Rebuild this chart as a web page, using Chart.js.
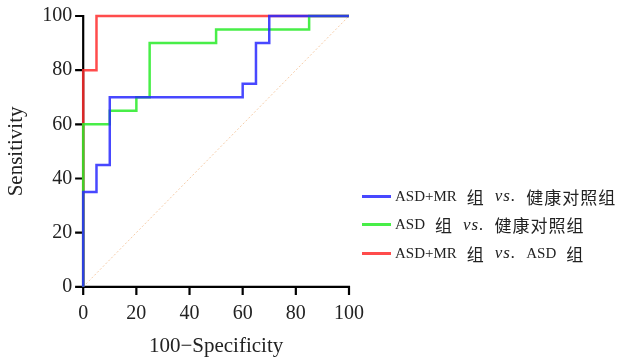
<!DOCTYPE html>
<html>
<head>
<meta charset="utf-8">
<script src="https://cdn.jsdelivr.net/npm/chart.js@4"></script>
<style>
  html, body { margin: 0; padding: 0; background: #fff; }
  #wrap { position: relative; width: 619px; height: 359px; }
  #legend { position: absolute; left: 362px; top: 182px; font-family: "Liberation Serif", serif; font-size: 15px; color: #222; }
  .item { display: flex; align-items: center; height: 28.5px; white-space: nowrap; }
  .swatch { width: 29px; height: 3px; margin-right: 4px; }
  .cjk { font-family: "Noto Sans CJK SC", sans-serif; font-size: 17px; letter-spacing: 1px; }
  .gap { display: inline-block; width: 10px; }
  .vs { font-style: italic; font-size: 17px; letter-spacing: 1px; }
</style>
</head>
<body>
<div id="wrap">
  <canvas id="roc" width="619" height="359"></canvas>
  <div id="legend"></div>
</div>
<script>
"use strict";

const SERIES_LABELS = ["ASD+MR", "ASD", "ASD+MR"];
const COMPARED_WITH = ["健康对照组", "健康对照组", "ASD 组"];
const COLORS = ["rgba(40,40,255,0.85)", "rgba(40,235,40,0.85)", "rgba(255,45,45,0.85)"];

// 100-specificity / sensitivity points of each ROC curve
const BLUE_X = [0, 0, 5, 10, 60, 65, 70, 100];
const BLUE_Y = [0, 35, 45, 70, 75, 90, 100, 100];
const GREEN_X = [0, 0, 10, 20, 25, 50, 85, 100];
const GREEN_Y = [0, 60, 65, 70, 90, 95, 100, 100];
const RED_X = [0, 0, 5, 100];
const RED_Y = [0, 80, 100, 100];
const DIAG_X = [0, 100];
const DIAG_Y = [0, 100];
const TICK_MARK = 7;

function toPoints(xs, ys) {
  return xs.map((x, i) => ({ x: x, y: ys[i] }));
}

function span(cls, text) {
  const el = document.createElement("span");
  if (cls) {
    el.className = cls;
  }
  el.textContent = text;
  return el;
}

function buildLegend() {
  const box = document.getElementById("legend");
  SERIES_LABELS.forEach((name, i) => {
    const row = document.createElement("div");
    row.className = "item";
    const sw = span("swatch", "");
    sw.style.background = COLORS[i];
    row.appendChild(sw);
    row.appendChild(span("", name));
    row.appendChild(span("gap", ""));
    row.appendChild(span("cjk", "组"));
    row.appendChild(span("gap", ""));
    row.appendChild(span("vs", "vs."));
    row.appendChild(span("gap", ""));
    const other = COMPARED_WITH[i];
    if (other.indexOf("ASD") === 0) {
      row.appendChild(span("", "ASD"));
      row.appendChild(span("gap", ""));
      row.appendChild(span("cjk", "组"));
    } else {
      row.appendChild(span("cjk", other));
    }
    box.appendChild(row);
  });
}

function makeLine(xs, ys, color) {
  return {
    data: toPoints(xs, ys),
    borderColor: color,
    borderWidth: 2.5,
    pointRadius: 0,
    stepped: "before",
    fill: false,
    clip: 4,
  };
}

// axis lines and outward tick marks, placed through the scales
const axisFrame = {
  id: "axisFrame",
  beforeDatasetsDraw(chart) {
    const ctx = chart.ctx;
    const xs = chart.scales.x;
    const ys = chart.scales.y;
    const area = chart.chartArea;
    ctx.save();
    ctx.strokeStyle = "rgb(0,0,0)";
    ctx.lineWidth = 2.2;
    ctx.lineCap = "square";
    ctx.beginPath();
    ctx.moveTo(area.left, area.top);
    ctx.lineTo(area.left, area.bottom);
    ctx.lineTo(area.right, area.bottom);
    xs.ticks.forEach((t) => {
      const px = xs.getPixelForValue(t.value);
      ctx.moveTo(px, area.bottom);
      ctx.lineTo(px, area.bottom + TICK_MARK);
    });
    ys.ticks.forEach((t) => {
      const py = ys.getPixelForValue(t.value);
      ctx.moveTo(area.left, py);
      ctx.lineTo(area.left - TICK_MARK, py);
    });
    ctx.stroke();
    ctx.restore();
  },
};

function renderChart() {
  const tickFont = { family: "Liberation Serif", size: 20 };
  const titleFont = { family: "Liberation Serif", size: 21 };
  const axis = (title, tickPad, titlePad) => ({
    type: "linear",
    min: 0,
    max: 100,
    ticks: { stepSize: 20, color: "#222", font: tickFont, padding: tickPad, maxRotation: 0 },
    grid: { display: true, drawOnChartArea: false, drawTicks: true, tickLength: TICK_MARK, color: "rgba(0,0,0,0)" },
    border: { display: false },
    title: { display: true, text: title, color: "#222", font: titleFont, padding: titlePad },
  });

  new Chart(document.getElementById("roc"), {
    type: "line",
    data: {
      datasets: [
        makeLine(BLUE_X, BLUE_Y, COLORS[0]),
        makeLine(GREEN_X, GREEN_Y, COLORS[1]),
        makeLine(RED_X, RED_Y, COLORS[2]),
        {
          data: toPoints(DIAG_X, DIAG_Y),
          borderColor: "rgba(245,200,160,0.9)",
          borderWidth: 1,
          borderDash: [2, 2],
          pointRadius: 0,
          fill: false,
        },
      ],
    },
    options: {
      responsive: false,
      animation: false,
      layout: { padding: { top: 4, right: 270, bottom: 0, left: 3 } },
      plugins: { legend: { display: false }, tooltip: { enabled: false } },
      scales: {
        x: axis("100\u2212Specificity", 8, { top: 0, bottom: 0 }),
        y: axis("Sensitivity", 4, { top: 1, bottom: 9 }),
      },
    },
    plugins: [axisFrame],
  });
}

document.addEventListener("DOMContentLoaded", () => {
  buildLegend();
  renderChart();
});
</script>
</body>
</html>
